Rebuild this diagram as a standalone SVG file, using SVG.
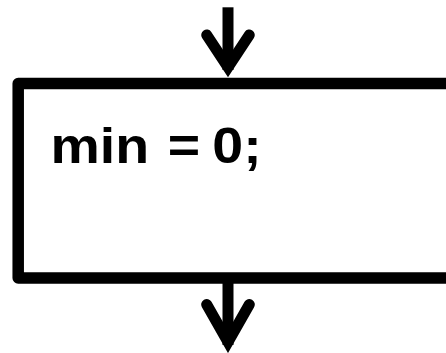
<svg xmlns="http://www.w3.org/2000/svg" width="446" height="353" viewBox="0 0 446 353">
  <style>
    .box { fill: #ffffff; stroke: #000000; stroke-width: 11.5; stroke-linejoin: round; }
    .shaft { fill: none; stroke: #000000; stroke-width: 11; stroke-linecap: butt; }
    .head { fill: none; stroke: #000000; stroke-width: 11; stroke-linecap: round; stroke-linejoin: miter; stroke-miterlimit: 10; }
    .label { font-family: "Liberation Sans", Arial, sans-serif; font-weight: bold; font-size: 50px; fill: #000000; }
  </style>
  <rect width="446" height="353" fill="#ffffff"/>
  <g id="node-min">
    <rect class="box" x="18.2" y="83.5" width="450" height="194.5"/>
    <text class="label" transform="translate(54,162.7) scale(1.11,1)" x="-3.2" y="0">min <tspan dx="3">=</tspan> <tspan dx="-3">0;</tspan></text>
  </g>
  <g id="connectors">
    <g id="arrow-in">
      <line class="shaft" x1="228" y1="7.3" x2="228" y2="70"/>
      <polyline class="head" points="206.7,35 228,67.3 249.3,35"/>
    </g>
    <g id="arrow-out">
      <line class="shaft" x1="228" y1="280" x2="228" y2="345"/>
      <polyline class="head" points="206.7,304.5 228,342 249.3,304.5"/>
    </g>
  </g>
</svg>
